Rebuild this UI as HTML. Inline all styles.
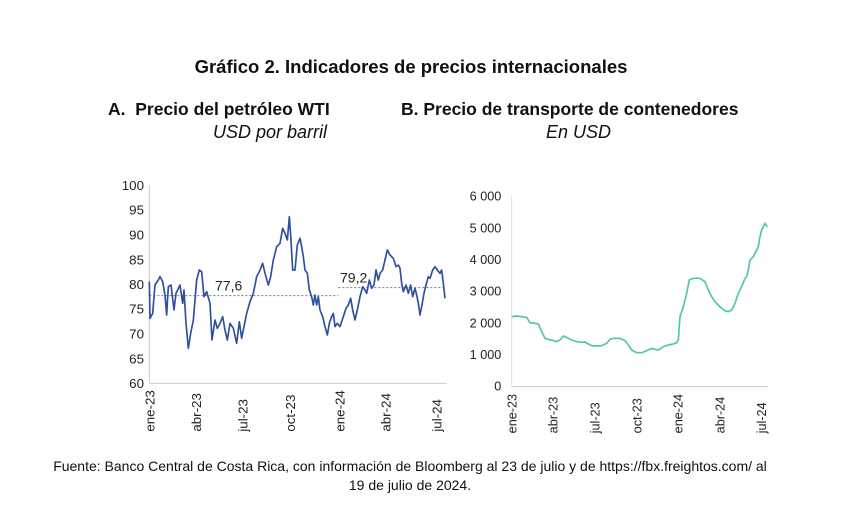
<!DOCTYPE html>
<html><head><meta charset="utf-8"><style>
body{margin:0;background:#fff;width:847px;height:518px;position:relative;overflow:hidden;font-family:"Liberation Sans",sans-serif;color:#111}
.t{position:absolute;white-space:nowrap}
svg{position:absolute}
</style></head><body>
<div class="t" style="left:0;width:822px;text-align:center;top:56px;font-size:18.5px;font-weight:bold">Gráfico 2. Indicadores de precios internacionales</div>
<div class="t" style="left:108px;top:99px;font-size:17.5px;font-weight:bold">A.&nbsp;&nbsp;Precio del petróleo WTI</div>
<div class="t" style="left:213px;top:122px;font-size:18px;font-style:italic">USD por barril</div>
<div class="t" style="left:401px;top:99px;font-size:17.5px;font-weight:bold">B. Precio de transporte de contenedores</div>
<div class="t" style="left:546px;top:122px;font-size:18px;font-style:italic">En USD</div>
<div class="t" style="left:0;width:820px;text-align:center;top:457px;font-size:14px;line-height:19px">Fuente: Banco Central de Costa Rica, con información de Bloomberg al 23 de julio y de https://fbx.freightos.com/ al<br>19 de julio de 2024.</div>

<svg style="left:100px;top:170px" width="360" height="270" viewBox="0 0 1080 810">
<g font-size="40" fill="#222" text-anchor="end" font-family="Liberation Sans,sans-serif">
<text x="132" y="60">100</text><text x="132" y="134">95</text><text x="132" y="208">90</text><text x="132" y="283">85</text><text x="132" y="357">80</text><text x="132" y="431">75</text><text x="132" y="506">70</text><text x="132" y="580">65</text><text x="132" y="654">60</text>
</g>
<line x1="148" y1="45" x2="148" y2="640" stroke="#ccc" stroke-width="3"/>
<line x1="148" y1="640" x2="1040" y2="640" stroke="#ccc" stroke-width="3"/>
<g font-size="40" fill="#222" font-family="Liberation Sans,sans-serif">
<text transform="translate(163,785) rotate(-90)">ene-23</text>
<text transform="translate(303,785) rotate(-90)">abr-23</text>
<text transform="translate(442,785) rotate(-90)">jul-23</text>
<text transform="translate(585,785) rotate(-90)">oct-23</text>
<text transform="translate(733,785) rotate(-90)">ene-24</text>
<text transform="translate(872,785) rotate(-90)">abr-24</text>
<text transform="translate(1025,785) rotate(-90)">jul-24</text>
</g>
<line x1="148" y1="377" x2="715" y2="377" stroke="#777" stroke-width="3" stroke-dasharray="6,6"/>
<line x1="715" y1="353" x2="1035" y2="353" stroke="#777" stroke-width="3" stroke-dasharray="6,6"/>
<text x="345" y="362" font-size="42" fill="#222" font-family="Liberation Sans,sans-serif">77,6</text>
<text x="720" y="337" font-size="42" fill="#222" font-family="Liberation Sans,sans-serif">79,2</text>
<polyline fill="none" stroke="#2f4f9f" stroke-width="5" stroke-linejoin="round" points="148,335 150,445 158,430 165,345 175,330 180,320 188,335 195,375 200,435 205,350 213,345 222,420 228,370 240,345 248,400 252,360 258,460 265,535 272,490 280,450 290,330 298,300 305,305 312,380 320,365 330,400 336,510 345,450 352,475 360,460 368,440 375,480 382,510 390,460 400,475 410,520 418,455 425,505 430,480 440,430 450,395 460,370 470,320 478,305 488,280 495,310 505,345 512,320 520,270 530,230 540,220 548,175 555,190 562,210 568,140 572,195 578,300 585,300 592,225 600,205 605,230 610,260 615,300 622,310 628,360 635,380 640,405 645,375 650,405 655,380 660,420 668,440 675,470 682,495 688,460 695,440 700,430 705,470 712,460 720,470 730,440 738,415 745,405 752,385 758,420 765,450 772,420 780,380 788,350 795,360 800,370 808,330 815,355 822,345 828,300 835,330 840,310 848,300 855,270 862,240 870,255 880,265 888,290 895,285 900,295 905,340 910,365 918,345 925,370 932,345 938,380 945,355 950,375 955,400 960,435 965,410 972,370 978,345 985,320 990,325 998,300 1005,290 1012,300 1020,310 1025,300 1030,340 1035,385"/>
</svg>

<svg style="left:460px;top:180px" width="320" height="260" viewBox="0 0 960 780">
<g font-size="38" fill="#222" text-anchor="end" font-family="Liberation Sans,sans-serif">
<text x="124" y="62">6 000</text><text x="124" y="157">5 000</text><text x="124" y="252">4 000</text><text x="124" y="347">3 000</text><text x="124" y="442">2 000</text><text x="124" y="537">1 000</text><text x="124" y="632">0</text>
</g>
<line x1="155" y1="50" x2="155" y2="620" stroke="#ddd" stroke-width="3"/>
<line x1="155" y1="620" x2="925" y2="620" stroke="#ccc" stroke-width="3"/>
<g font-size="38" fill="#222" font-family="Liberation Sans,sans-serif">
<text transform="translate(170,760) rotate(-90)">ene-23</text>
<text transform="translate(293,760) rotate(-90)">abr-23</text>
<text transform="translate(418,760) rotate(-90)">jul-23</text>
<text transform="translate(545,760) rotate(-90)">oct-23</text>
<text transform="translate(668,760) rotate(-90)">ene-24</text>
<text transform="translate(793,760) rotate(-90)">abr-24</text>
<text transform="translate(918,760) rotate(-90)">jul-24</text>
</g>
<polyline fill="none" stroke="#4fc9a0" stroke-width="5" stroke-linejoin="round" points="155,410 170,408 185,410 200,412 210,428 225,430 235,432 245,455 255,475 265,478 280,482 290,485 300,480 310,468 320,472 335,480 350,485 365,487 375,486 385,492 395,497 410,498 425,497 440,490 450,478 460,475 480,475 495,482 505,495 515,510 530,518 545,518 560,512 575,505 585,508 595,510 610,500 625,495 640,492 650,488 655,480 660,410 670,380 680,340 688,300 700,295 720,295 735,305 745,330 755,350 765,365 775,375 785,385 795,392 805,395 815,390 825,370 835,340 845,320 855,295 860,290 865,270 870,240 880,230 890,210 895,200 900,170 905,150 910,140 915,130 922,140"/>
</svg>
</body></html>
